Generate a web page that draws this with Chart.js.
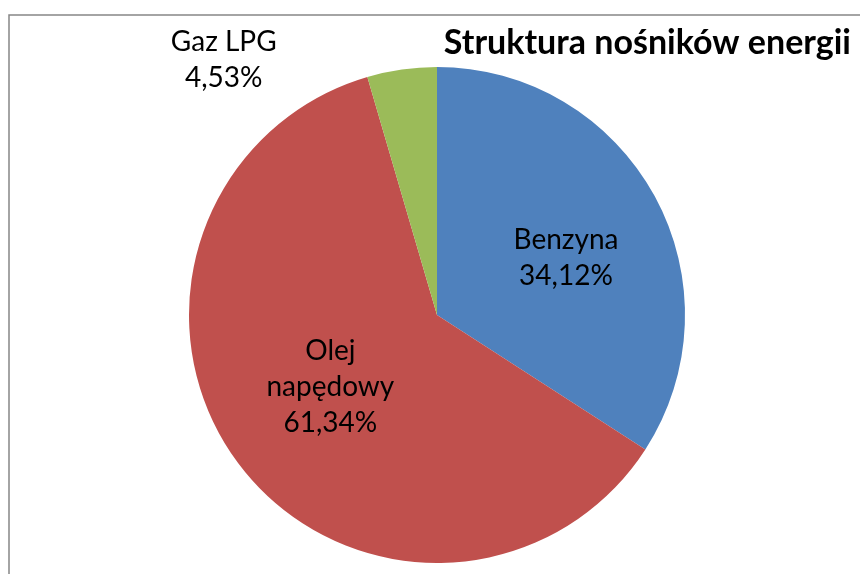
<!DOCTYPE html>
<html>
<head>
<meta charset="utf-8">
<script src="https://cdn.jsdelivr.net/npm/chart.js@4"></script>
<style>
  html, body { margin: 0; padding: 0; background: #fff; }
  #wrap { width: 860px; height: 574px; position: relative; }
</style>
</head>
<body>
<div id="wrap"><canvas id="pieChart" width="860" height="574"></canvas></div>
<script>
const labels = ["Benzyna", "Olej napędowy", "Gaz LPG"];
const labelLines = [["Benzyna"], ["Olej", "napędowy"], ["Gaz LPG"]];
const shares = [34.12, 61.34, 4.53];
const colors = ["#4F81BD", "#C0504D", "#9BBB59"];
const chartTitle = "Struktura nośników energii";

// label offsets from pie centre, in units of radius (Excel put them by hand)
const labelPos = [[0.52, -0.23], [-0.43, 0.29], [-0.86, -1.03]];

const fmt = (v) => v.toFixed(2).replace(".", ",") + "%";

const extras = {
  id: "extras",
  afterDraw(chart) {
    const ctx = chart.ctx;
    const arc = chart.getDatasetMeta(0).data[0];
    const cx = arc.x, cy = arc.y, r = arc.outerRadius;

    ctx.save();
    // frame
    ctx.strokeStyle = "#868686";
    ctx.lineWidth = 1.5;
    ctx.strokeRect(9, 15, 1000, 1000);

    // title
    ctx.fillStyle = "#000";
    ctx.font = "bold 34px Lato";
    ctx.textAlign = "right";
    ctx.textBaseline = "middle";
    ctx.fillText(chartTitle, 851, 43);

    // data labels
    ctx.font = "28px Lato";
    ctx.textAlign = "center";
    const lh = 36;
    shares.forEach((v, i) => {
      const lines = labelLines[i].concat([fmt(v)]);
      const x = cx + labelPos[i][0] * r;
      const y = cy + labelPos[i][1] * r;
      const y0 = y - ((lines.length - 1) * lh) / 2;
      lines.forEach((t, k) => ctx.fillText(t, x, y0 + k * lh));
    });
    ctx.restore();
  },
};

const pieConfig = {
  type: "pie",
  data: {
    labels: labels,
    datasets: [
      {
        data: shares,
        backgroundColor: colors,
        borderWidth: 0,
      },
    ],
  },
  options: {
    responsive: false,
    animation: false,
    layout: {
      padding: { left: 189, right: 175, top: 67, bottom: 11 },
    },
    plugins: {
      legend: { display: false },
      title: { display: false },
      tooltip: { enabled: false },
    },
  },
  plugins: [extras],
};

new Chart(document.getElementById("pieChart"), pieConfig);
</script>
</body>
</html>
